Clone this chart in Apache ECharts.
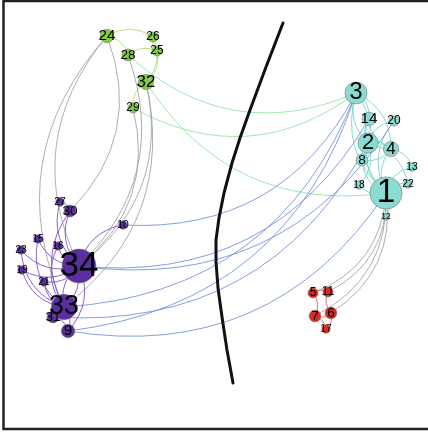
<!DOCTYPE html>
<html>
<head>
<meta charset="utf-8">
<script src="https://cdn.jsdelivr.net/npm/echarts@6/dist/echarts.min.js"></script>
<style>html,body{margin:0;padding:0;background:#fff}#c{width:428px;height:433px}</style>
</head>
<body>
<div id="c"></div>
<script>
// ---- data ----
const nodeIds = ['1','2','3','4','5','6','7','8','9','10','11','12','13','14','15','16','17','18','19','20','21','22','23','24','25','26','27','28','29','30','31','32','33','34'];
const nodeX = [386,368,356,391,313,331,315,362,68,123,328,386,412,369,38,58,326,359,22,394,44,408,21,107,157,153,60,128,133,70,53,146,64,79];
const nodeY = [193,143,93,149,293,313,316,160,331,225,292,217,167,119,239,246,329,185,270,121,282,184,250,36,51,37,202,55,108,211,317,82,307,266];
const community = [0,0,0,0,1,1,1,0,3,3,1,0,0,0,3,3,1,0,3,0,3,0,3,2,2,2,3,2,2,3,3,2,3,3];
const edgeSource = [1,1,1,1,1,1,1,1,1,1,2,2,2,2,2,2,2,3,3,3,4,4,4,
  1,1,1,1,
  5,5,6,6,6,7,
  1,1,2,3,3,3,3,3,14,20,
  24,24,25,28,25,26,29,
  24,34,33,28,29,32,32,
  33,34,31,34,33,34,33,34,33,34,33,34,33,34,34,27,33,34,33,34,33];
const edgeTarget = [2,3,4,8,12,13,14,18,20,22,3,4,8,14,18,20,22,4,8,14,8,13,14,
  5,6,7,11,
  7,11,7,11,17,17,
  9,32,31,9,10,28,29,33,34,34,
  26,28,26,25,32,32,32,
  30,24,24,34,34,33,34,
  9,9,9,10,15,15,16,16,19,19,21,21,23,23,27,30,30,30,31,31,34];
const boundaryX = [283,266,250,240,232,224,219,216,216,218,222,227,233];
const boundaryY = [23,67,110,138,163,193,218,240,262,288,317,350,383];

// ---- styles ----
const nodeColors = ['#8adcd2','#d92b22','#80cc3e','#5a2e9e'];
const intraEdgeColors = ['#6fd6cb','#ee5555','#a6de6c','#7b48c6'];
const crossColor = function(a,b){
  const k = Math.min(a,b)+'-'+Math.max(a,b);
  if (k==='0-3') return '#6f8fd8';
  if (k==='0-2') return '#8ee2a6';
  return '#a0a0a0';
};

const degree = nodeIds.map(()=>0);
edgeSource.forEach((s,i)=>{degree[s-1]++; degree[edgeTarget[i]-1]++;});

const nodes = nodeIds.map((id,i)=>({
  name: id,
  value: [nodeX[i], nodeY[i]],
  symbolSize: 5 + 1.7*degree[i],
  itemStyle: {color: nodeColors[community[i]], borderColor:'#777', borderWidth:0.6},
  label: {fontSize: 7 + 1.65*degree[i]}
}));
const links = edgeSource.map((s,i)=>{
  const t = edgeTarget[i];
  const cs = community[s-1], ct = community[t-1];
  return {source: s-1, target: t-1,
    lineStyle: {color: cs===ct ? intraEdgeColors[cs] : crossColor(cs,ct)}};
});

const chart = echarts.init(document.getElementById('c'));
chart.setOption({
  animation:false,
  grid:{left:0,right:0,top:0,bottom:0},
  xAxis:{type:'value',min:0,max:428,show:false},
  yAxis:{type:'value',min:0,max:433,inverse:true,show:false},
  graphic:[{type:'rect',shape:{x:3.5,y:1,width:440,height:428},style:{fill:'none',stroke:'#222',lineWidth:2.5}}],
  series:[
    {type:'graph',coordinateSystem:'cartesian2d',layout:'none',
     data:nodes,links:links,
     lineStyle:{width:1,curveness:0.32,opacity:0.85},
     label:{show:true,position:'inside',color:'#000',fontFamily:'Liberation Sans, Arial, sans-serif'},
     emphasis:{disabled:true},z:2},
    {type:'line',data:boundaryX.map((x,i)=>[x,boundaryY[i]]),smooth:false,showSymbol:false,
     lineStyle:{color:'#111',width:3,join:'round',cap:'round'},z:3}
  ]
});
</script>
</body>
</html>
